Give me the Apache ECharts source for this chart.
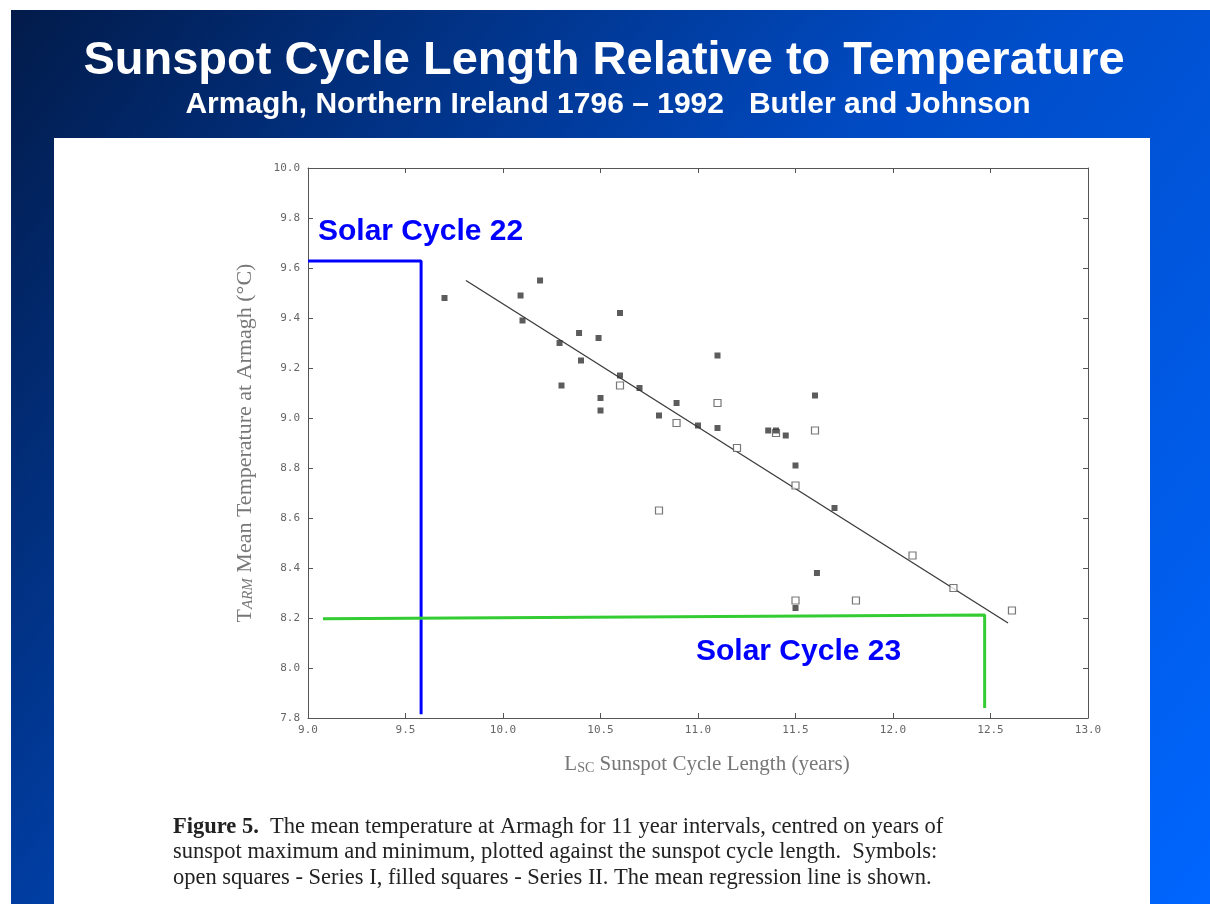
<!DOCTYPE html>
<html><head><meta charset="utf-8">
<script src="https://cdn.jsdelivr.net/npm/echarts@6/dist/echarts.min.js"></script>
<style>html,body{margin:0;padding:0;background:#fff}#c{width:1210px;height:904px}</style>
</head><body><div id="c"></div>
<script>
// ---- data ----
const xTicks = [9.0, 9.5, 10.0, 10.5, 11.0, 11.5, 12.0, 12.5, 13.0];
const yTicks = [7.8, 8.0, 8.2, 8.4, 8.6, 8.8, 9.0, 9.2, 9.4, 9.6, 9.8, 10.0];

// Series I (open squares)
const openL = [10.60, 10.89, 11.10, 11.20, 11.40, 11.60, 11.50, 10.80, 12.10, 12.31, 12.61, 11.50, 11.81];
const openT = [9.13, 8.98, 9.06, 8.88, 8.94, 8.95, 8.73, 8.63, 8.45, 8.32, 8.23, 8.27, 8.27];

// Series II (filled squares)
const filledL = [9.70, 10.09, 10.19, 10.10, 10.60, 10.39, 10.49, 10.29, 10.40, 10.60, 10.70, 10.30, 10.50, 10.50,
                 10.80, 10.89, 11.10, 11.00, 11.10, 11.36, 11.40, 11.45, 11.60, 11.50, 11.70, 11.61, 11.50];
const filledT = [9.48, 9.49, 9.55, 9.39, 9.42, 9.34, 9.32, 9.30, 9.23, 9.17, 9.12, 9.13, 9.08, 9.03,
                 9.01, 9.06, 9.25, 8.97, 8.96, 8.95, 8.95, 8.93, 9.09, 8.81, 8.64, 8.38, 8.24];

// mean regression line end points
const regL = [9.81, 12.59];
const regT = [9.55, 8.18];

// annotation lines (Solar Cycle 22 / 23)
const cyc22L = [9.0, 9.58, 9.58];
const cyc22T = [9.628, 9.628, 7.815];
const cyc23L = [9.077, 12.47, 12.47];
const cyc23T = [8.197, 8.212, 7.84];

const zip = (a, b) => a.map((v, i) => [v, b[i]]);

const chart = echarts.init(document.getElementById('c'), null, {renderer: 'canvas'});

const axisCol = '#555';
const tickFont = {color: '#666', fontFamily: 'DejaVu Sans Mono', fontSize: 11};

const option = {
  animation: false,
  backgroundColor: '#ffffff',
  grid: {left: 308, top: 168, width: 780, height: 550, show: false},
  xAxis: [{
    type: 'value', min: 9, max: 13, interval: 0.5, position: 'bottom',
    axisLine: {show: true, onZero: false, lineStyle: {color: axisCol, width: 1}},
    axisTick: {show: true, inside: true, length: 5, lineStyle: {color: axisCol}},
    splitLine: {show: false},
    axisLabel: Object.assign({margin: 7, formatter: v => v.toFixed(1)}, tickFont),
    name: '{t|L}{s|SC} Sunspot Cycle Length (years)',
    nameLocation: 'middle', nameGap: 36,
    nameTextStyle: {color: '#777', fontFamily: 'Liberation Serif', fontSize: 21, padding: [0, 0, 0, 18],
      rich: {t: {fontFamily: 'Liberation Serif', fontSize: 21, color: '#777'},
             s: {fontFamily: 'Liberation Serif', fontSize: 14, color: '#777', verticalAlign: 'bottom', padding: [7, 0, 0, 0]}}}
  }, {
    type: 'value', min: 9, max: 13, interval: 0.5, position: 'top',
    axisLine: {show: true, onZero: false, lineStyle: {color: axisCol, width: 1}},
    axisTick: {show: true, inside: true, length: 5, lineStyle: {color: axisCol}},
    splitLine: {show: false}, axisLabel: {show: false}
  }],
  yAxis: [{
    type: 'value', min: 7.8, max: 10.0, interval: 0.2, position: 'left',
    axisLine: {show: true, onZero: false, lineStyle: {color: axisCol, width: 1}},
    axisTick: {show: true, inside: true, length: 5, lineStyle: {color: axisCol}},
    splitLine: {show: false},
    axisLabel: Object.assign({margin: 8, formatter: v => v.toFixed(1)}, tickFont),
    name: '{t|T}{s|ARM} Mean Temperature at Armagh (°C)',
    nameLocation: 'middle', nameGap: 52, nameRotate: 90,
    nameTextStyle: {color: '#777', fontFamily: 'Liberation Serif', fontSize: 22,
      rich: {t: {fontFamily: 'Liberation Serif', fontSize: 22, color: '#777'},
             s: {fontFamily: 'Liberation Serif', fontSize: 15, fontStyle: 'italic', color: '#777', verticalAlign: 'bottom', padding: [7, 0, 0, 0]}}}
  }, {
    type: 'value', min: 7.8, max: 10.0, interval: 0.2, position: 'right',
    axisLine: {show: true, onZero: false, lineStyle: {color: axisCol, width: 1}},
    axisTick: {show: true, inside: true, length: 5, lineStyle: {color: axisCol}},
    splitLine: {show: false}, axisLabel: {show: false}
  }],
  series: [
    {type: 'line', data: zip(regL, regT), symbol: 'none', z: 3,
     lineStyle: {color: '#3a3a3a', width: 1.3}},
    {type: 'scatter', name: 'Series I', data: zip(openL, openT), symbol: 'rect', symbolSize: 7, z: 4,
     itemStyle: {color: '#ffffff', borderColor: '#555', borderWidth: 1.2}},
    {type: 'scatter', name: 'Series II', data: zip(filledL, filledT), symbol: 'rect', symbolSize: 6, z: 5,
     itemStyle: {color: '#333'}},
    {type: 'line', data: zip(cyc22L, cyc22T), symbol: 'none', z: 6,
     lineStyle: {color: '#0000ff', width: 3}},
    {type: 'line', data: zip(cyc23L, cyc23T), symbol: 'none', z: 6,
     lineStyle: {color: '#33cc33', width: 3}}
  ],
  graphic: [
    {type: 'rect', z: -100, silent: true, shape: {x: 11, y: 10, width: 1199, height: 894},
     style: {fill: new echarts.graphic.LinearGradient(0, 0, 1, 1, [
       {offset: 0, color: '#021b4a'}, {offset: 0.5, color: '#004ac2'}, {offset: 1, color: '#0066ff'}])}},
    {type: 'rect', z: -90, silent: true, shape: {x: 54, y: 138, width: 1096, height: 766},
     style: {fill: '#ffffff'}},
    {type: 'text', z: 100, x: 604, y: 61, silent: true,
     style: {text: 'Sunspot Cycle Length Relative to Temperature', fill: '#ffffff',
             font: 'bold 47px "Liberation Sans", Arial, sans-serif', textAlign: 'center', textVerticalAlign: 'middle'}},
    {type: 'text', z: 100, x: 608, y: 105, silent: true,
     style: {text: 'Armagh, Northern Ireland 1796 \u2013 1992   Butler and Johnson', fill: '#ffffff',
             font: 'bold 30px "Liberation Sans", Arial, sans-serif', textAlign: 'center', textVerticalAlign: 'middle'}},
    {type: 'text', z: 100, x: 318, y: 232, silent: true,
     style: {text: 'Solar Cycle 22', fill: '#0000ff',
             font: 'bold 30px "Liberation Sans", Arial, sans-serif', textAlign: 'left', textVerticalAlign: 'middle'}},
    {type: 'text', z: 100, x: 696, y: 652, silent: true,
     style: {text: 'Solar Cycle 23', fill: '#0000ff',
             font: 'bold 30px "Liberation Sans", Arial, sans-serif', textAlign: 'left', textVerticalAlign: 'middle'}},
    {type: 'text', z: 100, x: 173, y: 827, silent: true,
     style: {text: '{b|Figure 5.}  The mean temperature at Armagh for 11 year intervals, centred on years of',
             textVerticalAlign: 'middle', fill: '#222', font: '22.5px "Liberation Serif", serif',
             rich: {b: {fontWeight: 'bold', fontFamily: 'Liberation Serif', fontSize: 22.5, fill: '#222'}}}},
    {type: 'text', z: 100, x: 173, y: 852, silent: true,
     style: {text: 'sunspot maximum and minimum, plotted against the sunspot cycle length.  Symbols:',
             textVerticalAlign: 'middle', fill: '#222', font: '22.5px "Liberation Serif", serif'}},
    {type: 'text', z: 100, x: 173, y: 878, silent: true,
     style: {text: 'open squares - Series I, filled squares - Series II. The mean regression line is shown.',
             textVerticalAlign: 'middle', fill: '#222', font: '22.5px "Liberation Serif", serif'}}
  ]
};
chart.setOption(option);
</script></body></html>
